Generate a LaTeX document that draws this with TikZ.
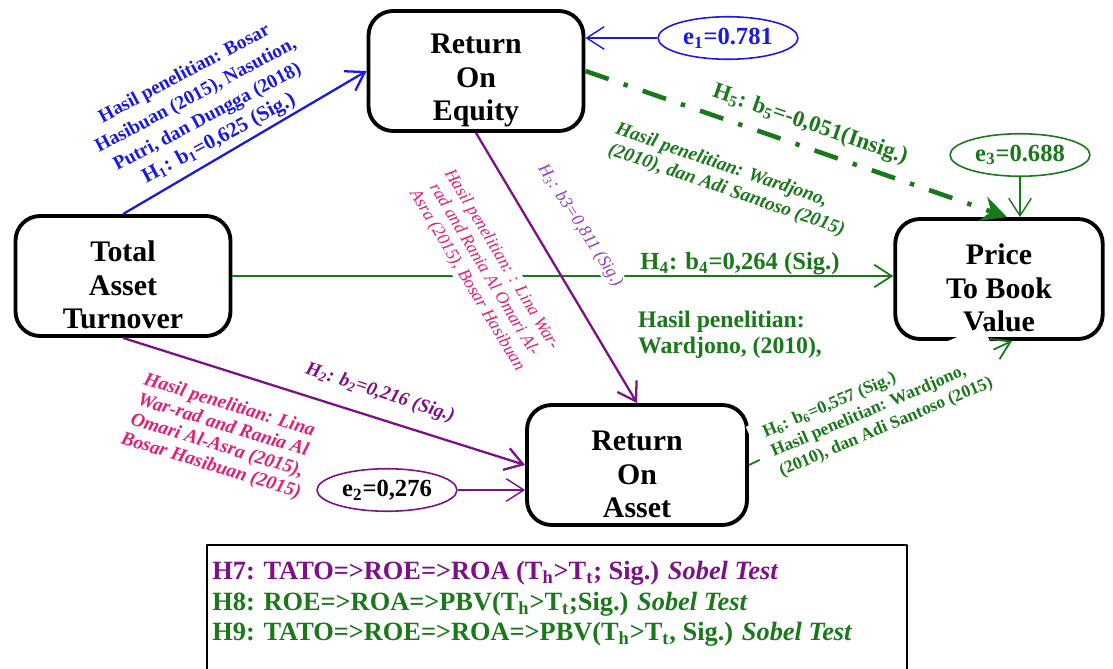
\documentclass[tikz,border=0pt]{standalone}
\usepackage{fontspec}
\setmainfont{Liberation Serif}
\usetikzlibrary{arrows.meta,shapes.geometric,calc}
\definecolor{hblue}{RGB}{25,25,225}
\definecolor{hgreen}{RGB}{25,120,25}
\definecolor{hpurple}{RGB}{125,15,135}
\definecolor{hpink}{RGB}{225,30,120}
\definecolor{hviolet}{RGB}{150,60,185}
\newcommand{\toppad}{\rule{0pt}{22pt}}
\begin{document}
\begin{tikzpicture}[x=0.02cm,y=-0.02cm,line join=round,
	box/.style={draw,line width=2.2pt,rounded corners=14pt,minimum width=4.3cm,minimum height=2.4cm,inner ysep=0pt,align=center,font=\fontsize{17}{19}\selectfont\bfseries},
	err/.style={ellipse,draw,line width=0.9pt,minimum width=2.8cm,minimum height=0.85cm,inner sep=0pt,font=\fontsize{14}{16}\selectfont\bfseries},
	link/.style={line width=1.3pt,-{Straight Barb[length=3.5mm,width=4.5mm]}},
	lab/.style={align=center,inner sep=1pt}]
	\useasboundingbox (0,0) rectangle (1113,669);
	% variabel
	\node[box] (roe) at (476,71) {\toppad Return\\On\\Equity};
	\node[box] (tato) at (123,276) {\toppad Total\\Asset\\Turnover};
	\node[box,minimum width=4.15cm] (pbv) at (999,279) {\toppad Price\\To Book\\Value};
	\node[box,minimum width=4.4cm] (roa) at (637,465) {\toppad Return\\On\\Asset};
	\node[err,draw=hblue,text=hblue] (e1) at (728,38) {e\textsubscript{1}=0.781};
	\node[err,draw=hgreen,text=hgreen] (e3) at (1020,155) {e\textsubscript{3}=0.688};
	\node[err,draw=hpurple] (e2) at (387,490) {e\textsubscript{2}=0,276};
	% jalur
	\draw[link,hblue] (tato.north) -- (roe.west);
	\draw[link,hpurple] (tato.south) -- (roa.west);
	\draw[link,hgreen,line width=1pt] (tato.east) -- (tato.east -| pbv.west);
	\draw[link,hgreen,line width=1pt] (roa.east) -- ($(pbv.south)+(13,0)$);
	\draw[hgreen,line width=2.6pt,dash pattern=on 14pt off 9pt on 2.5pt off 9pt,-{Stealth[length=5mm,width=5mm]}] (roe.east) -- ($(pbv.north)+(8,0)$);
	\draw[link,hblue,line width=0.8pt] (e1) -- (e1 -| roe.east);
	\draw[link,hgreen,line width=0.8pt] (e3) -- (e3 |- pbv.north);
	\draw[link,hpurple,line width=0.8pt] (e2) -- (e2 -| roa.west);
	% label
	\node[lab,hblue,rotate=28,font=\fontsize{11}{14}\selectfont\bfseries] (l1) at (202,107) {Hasil penelitian: Bosar\\Hasibuan (2015), Nasution,\\Putri, dan Dungga (2018)\\{\fontsize{12}{14}\selectfont H\textsubscript{1}: b\textsubscript{1}=0,625 (Sig.)}};
	\node[lab,hpurple,rotate=-18,font=\fontsize{11}{12.5}\selectfont\bfseries\itshape] (l2) at (380,393) {H\textsubscript{2}: b\textsubscript{2}=0,216 (Sig.)};
	\node[lab,hpink,rotate=-17,font=\fontsize{11}{12}\selectfont\bfseries\itshape] (n2) at (220,436) {Hasil penelitian: Lina\\War-rad and Rania Al\\Omari Al-Asra (2015),\\Bosar Hasibuan (2015)};
	\node[lab,hpink,fill=white,rotate=-59,font=\fontsize{10}{11.5}\selectfont\itshape] (n3) at (484,270) {Hasil penelitian: : Lina War-\\rad and Rania Al Omari Al-\\Asra (2015), Bosar Hasibuan};
	\node[lab,hviolet,fill=white,rotate=-57,font=\fontsize{10}{11}\selectfont\itshape] (l3) at (580,226) {H\textsubscript{3}: b3=0,811 (Sig.)};
	\node[lab,hgreen,font=\fontsize{14}{16}\selectfont\bfseries] (l4) at (740,264) {H\textsubscript{4}: b\textsubscript{4}=0,264 (Sig.)};
	\node[lab,hgreen,anchor=west,align=left,font=\fontsize{13.5}{15}\selectfont\bfseries] (n4) at (636,335) {Hasil penelitian:\\Wardjono, (2010),};
	\node[lab,hgreen,rotate=-19,font=\fontsize{13}{15}\selectfont\bfseries] (l5) at (810,125) {H\textsubscript{5}: b\textsubscript{5}=-0,051(Insig.)};
	\node[lab,hgreen,rotate=-19,align=left,font=\fontsize{11}{12.5}\selectfont\bfseries\itshape] (n5) at (730,180) {Hasil penelitian: Wardjono,\\(2010), dan Adi Santoso (2015)};
	\node[lab,hgreen,fill=white,rotate=23,align=left,inner xsep=8pt,inner ysep=3pt,font=\fontsize{10}{12}\selectfont\bfseries] (l6) at (878,408) {H\textsubscript{6}: b\textsubscript{6}=0,557 (Sig.)\\Hasil penelitian: Wardjono,\\(2010), dan Adi Santoso (2015)};
	\draw[link,hpurple] (roe.south) -- (roa.north);
	% uji sobel
	\draw[line width=1.2pt] (207,700) -- (207,545) -- (907,545) -- (907,700);
	\node[anchor=north west,align=left,inner sep=0pt,font=\fontsize{15}{17.4}\selectfont\bfseries] (sobel) at (212,561) {{\color{hpurple}H7: TATO=>ROE=>ROA (T\textsubscript{h}>T\textsubscript{t}; Sig.) \textit{Sobel Test}}\\
		{\color{hgreen}H8: ROE=>ROA=>PBV(T\textsubscript{h}>T\textsubscript{t};Sig.) \textit{Sobel Test}}\\
		{\color{hgreen}H9: TATO=>ROE=>ROA=>PBV(T\textsubscript{h}>T\textsubscript{t}, Sig.) \textit{Sobel Test}}};
\end{tikzpicture}
\end{document}
